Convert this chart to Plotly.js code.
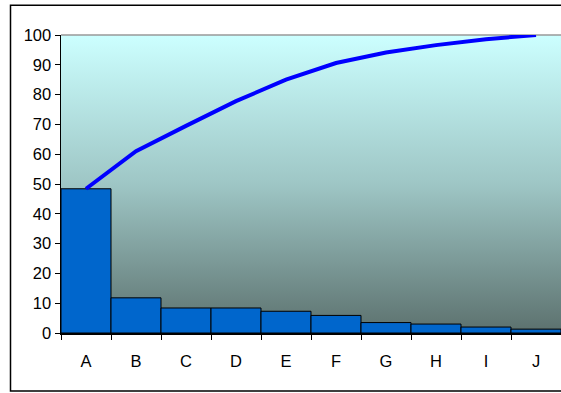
<!DOCTYPE html>
<html>
<head>
<meta charset="utf-8">
<script src="https://cdn.plot.ly/plotly-3.0.1.min.js"></script>
<style>
  html, body { margin: 0; padding: 0; background: #ffffff; }
  #chart { width: 561px; height: 393px; }
</style>
</head>
<body>
<div id="chart"></div>
<script>
// Pareto data: share of each category (%) and the running cumulative share (%)
const categories = ['A', 'B', 'C', 'D', 'E', 'F', 'G', 'H', 'I', 'J'];
const shares = [48.4, 11.8, 8.4, 8.4, 7.3, 5.9, 3.5, 3.0, 2.0, 1.3];
const cumulative = [48.4, 61.0, 69.5, 77.8, 85.0, 90.6, 94.1, 96.6, 98.6, 100];
const yTicks = [0, 10, 20, 30, 40, 50, 60, 70, 80, 90, 100];

// vertical gradient for the plot background
const gradientSvg =
  '<svg xmlns="http://www.w3.org/2000/svg" width="10" height="100" preserveAspectRatio="none">' +
  '<defs><linearGradient id="g" x1="0" y1="0" x2="0" y2="1">' +
  '<stop offset="0" stop-color="#CCFFFF"/>' +
  '<stop offset="0.5" stop-color="#9EC6C5"/>' +
  '<stop offset="1" stop-color="#5C716E"/>' +
  '</linearGradient></defs>' +
  '<rect x="0" y="0" width="10" height="100" fill="url(#g)"/></svg>';
const gradientUrl = 'data:image/svg+xml;charset=utf-8,' + encodeURIComponent(gradientSvg);

const font = { family: 'Arial, "Liberation Sans", sans-serif', size: 16.5, color: '#000000' };

const bars = {
  type: 'bar',
  x: categories,
  y: shares,
  width: 1,
  marker: { color: '#0066CC', line: { color: '#000000', width: 1 } },
  hoverinfo: 'x+y'
};

const line = {
  type: 'scatter',
  mode: 'lines',
  x: categories,
  y: cumulative,
  line: { color: '#0000FF', width: 4 },
  cliponaxis: false,
  hoverinfo: 'x+y'
};

const layout = {
  width: 561,
  height: 393,
  margin: { l: 61, r: 0, t: 35, b: 60 },
  paper_bgcolor: '#ffffff',
  plot_bgcolor: 'rgba(0,0,0,0)',
  showlegend: false,
  bargap: 0,
  font: font,
  xaxis: {
    type: 'category',
    tickson: 'boundaries',
    ticks: 'outside',
    ticklen: 5,
    tickcolor: '#000000',
    tickwidth: 1,
    showline: true,
    linecolor: '#000000',
    linewidth: 2,
    showgrid: false,
    zeroline: false,
    ticklabelstandoff: 12,
    tickfont: font
  },
  yaxis: {
    range: [0, 100],
    tickvals: yTicks,
    ticks: 'outside',
    ticklen: 5,
    tickcolor: '#000000',
    tickwidth: 1,
    showline: true,
    linecolor: '#000000',
    linewidth: 1.5,
    showgrid: false,
    zeroline: false,
    ticklabelstandoff: 0,
    tickfont: font
  },
  images: [{
    source: gradientUrl,
    xref: 'paper', yref: 'paper',
    x: 0, y: 1, sizex: 1, sizey: 1,
    xanchor: 'left', yanchor: 'top',
    sizing: 'stretch',
    layer: 'below'
  }],
  shapes: [
    // outer chart frame
    { type: 'rect', xref: 'paper', yref: 'paper',
      x0: -0.101, x1: 1.05, y0: -0.195, y1: 1.1,
      line: { color: '#000000', width: 1.5 }, fillcolor: 'rgba(0,0,0,0)', layer: 'below' },
    // top edge of the plot area
    { type: 'line', xref: 'paper', yref: 'paper',
      x0: 0, x1: 1.05, y0: 1, y1: 1,
      line: { color: '#999999', width: 1.5 }, layer: 'below' }
  ]
};

Plotly.newPlot('chart', [bars, line], layout, { displayModeBar: false, staticPlot: true });
</script>
</body>
</html>
